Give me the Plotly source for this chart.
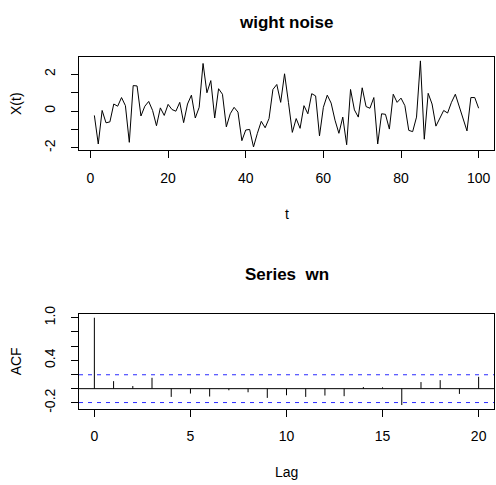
import numpy as np
import plotly.graph_objects as go

# ---- data ----
t = list(range(1, 101))
wn = [-0.24, -1.79, 0.03, -0.64, -0.59, 0.38, 0.26, 0.73, 0.29, -1.70,
      1.38, 1.36, -0.27, 0.26, 0.52, 0.03, -0.80, 0.17, -0.24, 0.36,
      0.08, -0.01, 0.47, -0.63, 0.38, 0.86, -0.38, 0.20, 2.58, 0.99,
      1.65, -0.38, 1.21, 0.91, -0.86, -0.15, 0.20, -0.06, -1.61, -1.03,
      -1.00, -1.95, -1.21, -0.56, -0.91, -0.41, 1.17, 1.44, 0.47, 2.02,
      0.47, -1.16, -0.41, -0.94, 0.29, -0.15, 0.94, 0.82, -1.35, 0.20,
      0.86, 0.43, -0.50, -1.21, -0.33, -1.83, 1.17, 0.06, -0.33, 1.26,
      0.24, 0.15, 0.73, -1.79, -0.15, -0.18, -0.98, 0.91, 0.47, 0.70,
      0.29, -1.05, -1.12, -0.33, 2.72, -1.53, 0.96, 0.38, -0.82, -0.41,
      0.03, -0.11, 0.47, 0.91, 0.20, -0.50, -1.08, 0.73, 0.73, 0.15]

lags = list(range(0, 21))
acf_vals = [1.0, 0.106, 0.037, 0.153, -0.116, -0.069, -0.111, -0.023, -0.051, -0.130,
            -0.093, -0.116, -0.097, -0.106, 0.023, 0.019, -0.231, 0.093, 0.120, -0.074, 0.167]
ci = 1.96 / np.sqrt(len(wn))

top_xticks = [0, 20, 40, 60, 80, 100]
top_yticks = [-2, -1, 0, 1, 2]
top_yticktext = ["-2", "", "0", "", "2"]
acf_xticks = [0, 5, 10, 15, 20]
acf_yticks = [-0.2, 0.0, 0.2, 0.4, 0.6, 0.8, 1.0]
acf_yticktext = ["-0.2", "", "", "0.4", "", "", "1.0"]

W, H = 496, 485
FONT = "Liberation Sans, Arial, Helvetica, sans-serif"


def rng(lo, hi):
    d = hi - lo
    return [lo - 0.04 * d, hi + 0.04 * d]


fig = go.Figure()
fig.add_trace(go.Scatter(x=t, y=wn, mode="lines", line=dict(color="black", width=1),
                         xaxis="x", yaxis="y", showlegend=False, hoverinfo="skip"))

bx, by = [], []
for k, v in zip(lags, acf_vals):
    bx += [k, k, None]
    by += [0, v, None]
fig.add_trace(go.Scatter(x=bx, y=by, mode="lines", line=dict(color="black", width=1),
                         xaxis="x2", yaxis="y2", showlegend=False, hoverinfo="skip"))

xd = [79 / W, 494 / W]
top_dom = [1 - 146 / H, 1 - 50.7 / H]
acf_dom = [1 - 410.7 / H, 1 - 314 / H]

axis_common = dict(showline=True, linecolor="black", linewidth=1, mirror=True,
                   ticks="outside", ticklen=7, tickcolor="black", tickwidth=1,
                   showgrid=False, zeroline=False,
                   tickfont=dict(family=FONT, size=14, color="black"))

fig.update_layout(
    width=W, height=H, margin=dict(l=0, r=0, t=0, b=0),
    paper_bgcolor="white", plot_bgcolor="white",
    xaxis=dict(domain=xd, anchor="y", range=rng(min(t), max(t)),
               tickvals=top_xticks, ticklabelstandoff=8, **axis_common),
    yaxis=dict(domain=top_dom, anchor="x", range=rng(min(wn), max(wn)),
               tickvals=top_yticks, ticktext=top_yticktext, tickangle=-90,
               ticklabelstandoff=10, **axis_common),
    xaxis2=dict(domain=xd, anchor="y2", range=rng(min(lags), max(lags)),
                tickvals=acf_xticks, ticklabelstandoff=8, **axis_common),
    yaxis2=dict(domain=acf_dom, anchor="x2", range=rng(min(acf_vals), max(acf_vals)),
                tickvals=acf_yticks, ticktext=acf_yticktext, tickangle=-90,
                ticklabelstandoff=10, **axis_common),
    shapes=[
        dict(type="line", xref="x2 domain", yref="y2", x0=0, x1=1, y0=ci, y1=ci,
             line=dict(color="#2a2aff", width=1, dash="4px,5px")),
        dict(type="line", xref="x2 domain", yref="y2", x0=0, x1=1, y0=-ci, y1=-ci,
             line=dict(color="#2a2aff", width=1, dash="4px,5px")),
        dict(type="line", xref="x2 domain", yref="y2", x0=0, x1=1, y0=0, y1=0,
             line=dict(color="black", width=1)),
    ],
)

cx = (79 + 494) / 2 / W


def ann(text, x, y, size=14, bold=False, angle=0):
    fig.add_annotation(text=f"<b>{text}</b>" if bold else text, x=x, y=y,
                       xref="paper", yref="paper", xanchor="center", yanchor="middle",
                       showarrow=False, textangle=angle,
                       font=dict(family=FONT, size=size, color="black"))


ann("wight noise", cx, 1 - 15 / H, size=17, bold=True)
ann("t", cx, 1 - 211.7 / H)
ann("X(t)", 16 / W, 1 - 98.4 / H, angle=-90)
ann("Series\u00a0 wn", cx, 1 - 273 / H, size=17, bold=True)
ann("Lag", cx, 1 - 476 / H)
ann("ACF", 16 / W, 1 - 362.3 / H, angle=-90)

fig.write_html(
    "out.html",
    config={"displayModeBar": False, "staticPlot": True},
    post_script="document.body.style.margin='0';document.body.style.overflow='hidden';",
)
